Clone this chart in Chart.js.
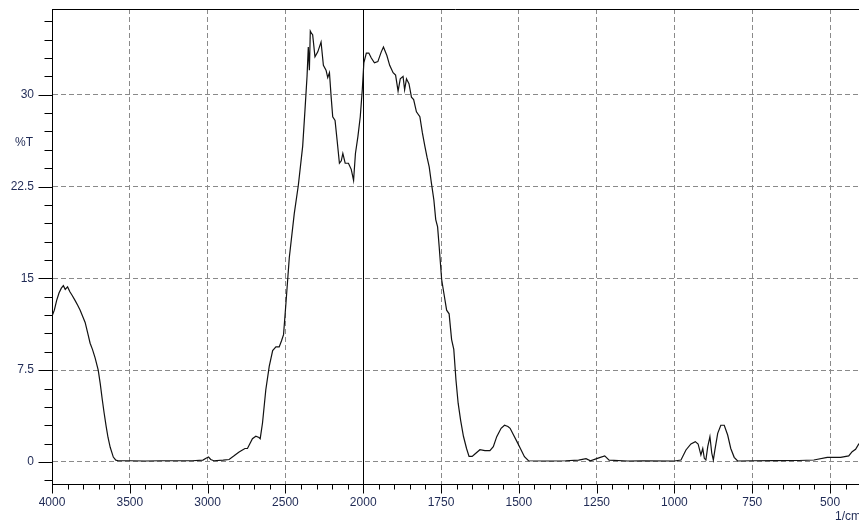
<!doctype html>
<html lang="en">
<head>
<meta charset="utf-8">
<title>IR spectrum</title>
<script src="https://cdn.jsdelivr.net/npm/chart.js@4.4.1/dist/chart.umd.min.js"></script>
<style>
  html, body { margin: 0; padding: 0; background: #fff; overflow: hidden; }
  #wrap { width: 859px; height: 524px; position: relative; }
</style>
</head>
<body>
<div id="wrap"><canvas id="spec"></canvas></div>
<script>
// wavenumber (1/cm) and %T
const wavenumbers = [
  4000, 3985, 3970, 3955, 3940, 3927, 3915, 3900, 3885, 3870, 3852, 3835, 3819, 3800, 3787, 3770,
  3755, 3740, 3723, 3703, 3690, 3677, 3665, 3652, 3640, 3626, 3606, 3590, 3574, 3500, 3400, 3300,
  3200, 3100, 3030, 3010, 2994, 2980, 2960, 2900, 2862, 2830, 2800, 2787, 2760, 2744, 2712, 2690,
  2670, 2662, 2647, 2626, 2604, 2582, 2561, 2540, 2525, 2512, 2497, 2475, 2443, 2417, 2389, 2374,
  2361, 2353, 2346, 2340, 2332, 2325, 2310, 2292, 2271, 2256, 2239, 2228, 2217, 2206, 2196, 2181,
  2168, 2153, 2141, 2131, 2116, 2095, 2077, 2062, 2050, 2034, 2019, 2006, 1998, 1990, 1982, 1974,
  1964, 1953, 1942, 1935, 1924, 1915, 1904, 1896, 1888, 1881, 1872, 1867, 1861, 1853, 1845, 1838,
  1829, 1818, 1810, 1802, 1795, 1788, 1781, 1773, 1767, 1761, 1756, 1748, 1741, 1732, 1724, 1716,
  1709, 1702, 1695, 1687, 1678, 1668, 1660, 1650, 1641, 1625, 1609, 1593, 1582, 1571, 1557, 1546,
  1535, 1528, 1517, 1506, 1495, 1482, 1469, 1400, 1350, 1308, 1284, 1270, 1243, 1224, 1210, 1150,
  1100, 1000, 979, 963, 947, 933, 924, 915, 909, 904, 899, 893, 886, 880, 875, 870,
  861, 851, 840, 829, 819, 808, 797, 750, 680, 600, 552, 509, 466, 440, 429, 418,
  407
];
const transmittance = [
  11.9, 12.4, 13.2, 13.8, 14.2, 14.4, 14.1, 14.3, 13.9, 13.6, 13.2, 12.8, 12.4, 11.8, 11.4, 10.5,
  9.7, 9.2, 8.5, 7.5, 6.4, 5.1, 4.0, 2.9, 2.0, 1.2, 0.4, 0.15, 0.1, 0.1, 0.08, 0.1,
  0.1, 0.1, 0.15, 0.3, 0.4, 0.2, 0.1, 0.15, 0.2, 0.5, 0.8, 0.9, 1.1, 1.1, 1.9, 2.1,
  2.0, 1.9, 3.2, 5.9, 7.8, 9.1, 9.4, 9.4, 9.9, 10.4, 12.9, 16.7, 20.3, 22.6, 25.8, 28.8,
  31.5, 33.9, 32.0, 35.2, 35.0, 34.9, 33.1, 33.5, 34.3, 32.4, 32.0, 31.4, 31.8, 29.8, 28.2, 27.9,
  26.3, 24.4, 24.6, 25.2, 24.4, 24.4, 23.9, 23.0, 25.2, 26.6, 28.2, 30.4, 32.6, 33.4, 33.4, 33.0,
  32.6, 32.7, 33.5, 33.9, 33.2, 32.4, 31.8, 31.6, 30.3, 31.3, 31.5, 30.4, 31.3, 30.9, 29.8, 29.6,
  28.6, 28.2, 26.9, 25.8, 24.9, 24.1, 22.8, 21.4, 19.8, 19.2, 17.6, 14.9, 13.8, 12.4, 12.1, 10.0,
  9.2, 6.7, 4.8, 3.4, 2.1, 1.1, 0.45, 0.45, 0.65, 1.0, 0.93, 0.93, 1.25, 2.07, 2.75, 3.0,
  2.9, 2.75, 2.2, 1.66, 1.1, 0.43, 0.1, 0.08, 0.1, 0.15, 0.27, 0.1, 0.33, 0.5, 0.15, 0.08,
  0.1, 0.08, 0.16, 0.98, 1.47, 1.66, 1.47, 0.57, 1.1, 0.3, 0.16, 1.25, 2.07, 0.71, 0.16, 0.98,
  2.34, 3.0, 3.0, 2.2, 1.1, 0.38, 0.08, 0.1, 0.11, 0.12, 0.16, 0.38, 0.38, 0.49, 0.84, 1.04,
  1.5
];
const xTickLabels = [4000, 3500, 3000, 2500, 2000, 1750, 1500, 1250, 1000, 750, 500];
const yTickLabels = [0, 7.5, 15, 22.5, 30];

// the x axis is compressed 2:1 above 2000 1/cm
const wnToPos = w => (w >= 2000 ? (4000 - w) / 2 : 3000 - w);
const posToWn = p => (p <= 1000 ? 4000 - 2 * p : 3000 - p);

const labelColor = '#1f2a55';
const labelFont = { family: 'Liberation Sans, Arial, sans-serif', size: 12 };

const points = wavenumbers.map((w, i) => ({ x: wnToPos(w), y: transmittance[i] }));

const framePlugin = {
  id: 'frame',
  beforeDatasetsDraw(chart) {
    const { ctx, chartArea: a, scales } = chart;
    const x2000 = Math.round(scales.x.getPixelForValue(wnToPos(2000))) + 0.5;
    ctx.save();
    ctx.strokeStyle = '#000';
    ctx.lineWidth = 1;
    ctx.beginPath();
    ctx.moveTo(x2000, a.top);
    ctx.lineTo(x2000, a.bottom);
    ctx.stroke();
    ctx.restore();
  },
  afterDraw(chart) {
    const { ctx, chartArea: a, scales } = chart;
    ctx.save();
    ctx.strokeStyle = '#000';
    ctx.lineWidth = 1;
    ctx.beginPath();
    // top frame line
    const top = Math.round(a.top) + 0.5;
    ctx.moveTo(a.left, top);
    ctx.lineTo(a.right, top);
    // y ticks every 1.5
    const left = Math.round(a.left) + 0.5;
    for (let v = -1.5; v <= 36.01; v += 1.5) {
      const y = Math.round(scales.y.getPixelForValue(v)) + 0.5;
      const major = Math.abs(v / 7.5 - Math.round(v / 7.5)) < 1e-6;
      ctx.moveTo(left - (major ? 14 : 8), y);
      ctx.lineTo(left, y);
    }
    // x ticks every 50 position units
    const bottom = Math.round(a.bottom) + 0.5;
    for (let p = 0; p <= scales.x.max; p += 50) {
      const x = Math.round(scales.x.getPixelForValue(p)) + 0.5;
      const major = p % 250 === 0;
      ctx.moveTo(x, bottom);
      ctx.lineTo(x, bottom + (major ? 9 : 5));
    }
    ctx.stroke();

    ctx.fillStyle = labelColor;
    ctx.font = '12px ' + labelFont.family;
    ctx.textBaseline = 'middle';
    ctx.textAlign = 'left';
    ctx.fillText('%T', 15, 143);
    ctx.fillText('1/cm', 835, 517);
    ctx.restore();
  }
};

new Chart(document.getElementById('spec'), {
  type: 'scatter',
  data: {
    datasets: [{
      data: points,
      showLine: true,
      borderColor: '#111',
      borderWidth: 1.2,
      pointRadius: 0,
      tension: 0
    }]
  },
  options: {
    responsive: true,
    maintainAspectRatio: false,
    animation: false,
    events: [],
    layout: { padding: { top: 9, right: 0, left: 0, bottom: 0 } },
    plugins: { legend: { display: false }, tooltip: { enabled: false } },
    scales: {
      x: {
        type: 'linear',
        min: 0,
        max: wnToPos(407),
        afterBuildTicks: axis => { axis.ticks = xTickLabels.map(w => ({ value: wnToPos(w) })); },
        afterFit: axis => { axis.height = 40; },
        ticks: {
          autoSkip: false,
          maxRotation: 0,
          padding: 0,
          color: labelColor,
          font: labelFont,
          callback: v => String(posToWn(v))
        },
        grid: { color: '#8a8a8a', lineWidth: 1, drawTicks: true, tickLength: 11, tickColor: 'rgba(0,0,0,0)' },
        border: { color: '#000', width: 1, dash: [5, 3] }
      },
      y: {
        min: -1.8,
        max: 37,
        afterBuildTicks: axis => { axis.ticks = yTickLabels.map(v => ({ value: v })); },
        afterFit: axis => { axis.width = 52; },
        ticks: {
          padding: 0,
          color: labelColor,
          font: labelFont,
          callback: v => String(v)
        },
        grid: { color: '#8a8a8a', lineWidth: 1, drawTicks: true, tickLength: 18, tickColor: 'rgba(0,0,0,0)' },
        border: { color: '#000', width: 1, dash: [5, 3] }
      }
    }
  },
  plugins: [framePlugin]
});
</script>
</body>
</html>
